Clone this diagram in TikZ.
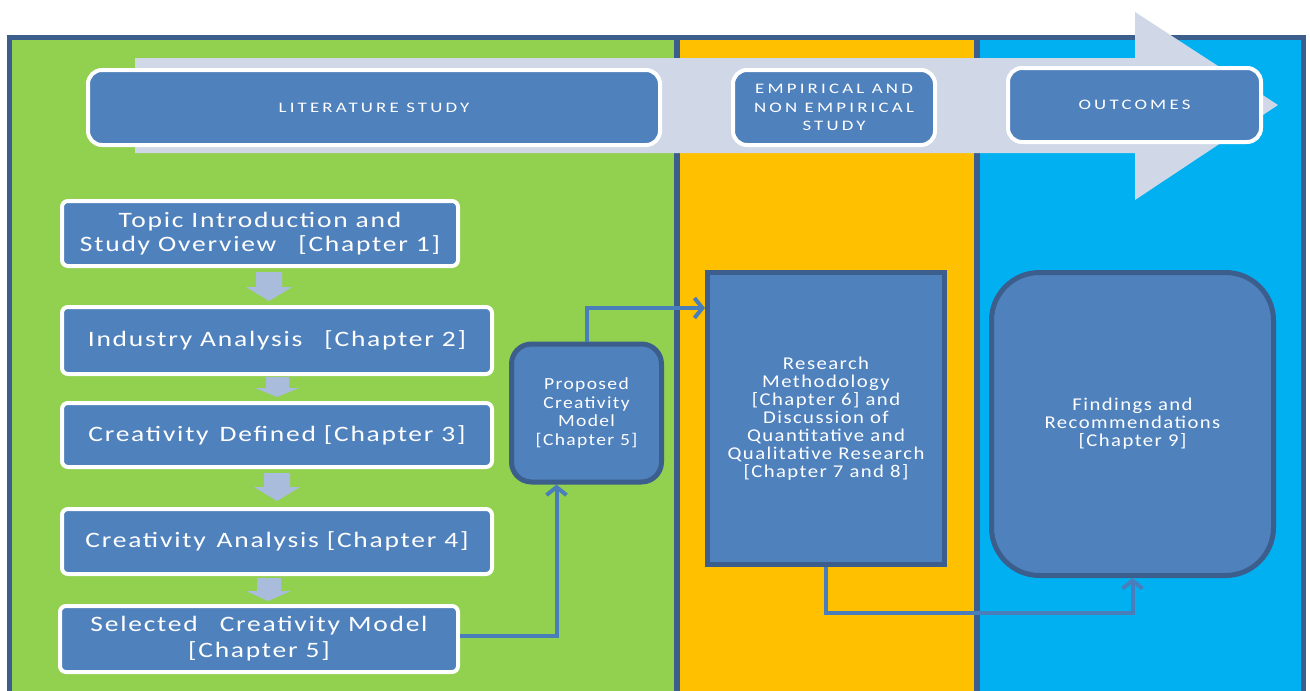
\documentclass[tikz,border=0pt]{standalone}
\usepackage{fontspec}
\setmainfont{Carlito}
\newfontfamily\hdrfont[FakeStretch=1.3,LetterSpace=22]{Carlito}
\newfontfamily\chpfont[FakeStretch=1.25,LetterSpace=8]{Carlito}
\newfontfamily\inrfont[FakeStretch=1.15,LetterSpace=8]{Carlito}
\usetikzlibrary{arrows.meta}
\definecolor{pgreen}{HTML}{92D050}
\definecolor{pyellow}{HTML}{FFC000}
\definecolor{pcyan}{HTML}{00B0F0}
\definecolor{frame}{HTML}{3B5E8C}
\definecolor{boxblue}{HTML}{4F81BD}
\definecolor{biggray}{HTML}{D0D8E8}
\definecolor{smallarr}{HTML}{AABCDB}
\definecolor{connc}{HTML}{4A7EBB}
\tikzset{
  hbox/.style={fill=boxblue, draw=white, line width=4pt, rounded corners=14pt, text=white, align=center, inner sep=0pt, font=\hdrfont\fontsize{14.5}{18.5}\selectfont},
  cbox/.style={fill=boxblue, draw=white, line width=4pt, rounded corners=6pt, text=white, align=center, inner sep=0pt, font=\chpfont\fontsize{22}{24.5}\selectfont},
  ibox/.style={fill=boxblue, draw=frame, line width=5pt, text=white, align=center, inner sep=0pt, font=\inrfont\fontsize{18}{18}\selectfont},
  conn/.style={draw=connc, line width=4pt, -{Straight Barb[length=8pt,width=20pt]}},
  smallarrow/.style={fill=smallarr}
}
\begin{document}
\begin{tikzpicture}[x=1pt,y=-1pt]
\useasboundingbox (0,0) rectangle (1310,691);
\fill[white] (0,0) rectangle (1310,691);
% panels
\fill[pgreen] (8,35) rectangle (677,691);
\fill[pyellow] (677,35) rectangle (977,691);
\fill[pcyan] (977,35) rectangle (1306,691);
\draw[frame, line width=5pt] (9.5,691) -- (9.5,37.5) -- (1303.5,37.5) -- (1303.5,691);
\draw[frame, line width=6pt] (677,37.5) -- (677,691);
\draw[frame, line width=6pt] (977,37.5) -- (977,691);
% big arrow
\fill[biggray] (135,58) -- (1135,58) -- (1135,12) -- (1278,105) -- (1135,200) -- (1135,153) -- (135,153) -- cycle;
% header boxes
\node[hbox, minimum width=572pt, minimum height=75pt] (lit) at (374,107.5) {LITERATURE STUDY};
\node[hbox, minimum width=202pt, minimum height=75pt] (emp) at (834,107.5) {EMPIRICAL AND\\NON EMPIRICAL\\STUDY};
\node[hbox, minimum width=253pt, minimum height=74pt] (out) at (1134.5,105) {OUTCOMES};
% chapter boxes
\node[cbox, minimum width=396pt, minimum height=65pt] (b1) at (260,233.5) {Topic Introduction and\\Study Overview\quad [Chapter 1]};
\node[cbox, minimum width=430pt, minimum height=67pt] (b2) at (277,340.5) {Industry Analysis\quad [Chapter 2]};
\node[cbox, minimum width=430pt, minimum height=64pt] (b3) at (277,435) {Creativity\enspace Defined [Chapter 3]};
\node[cbox, minimum width=430pt, minimum height=65pt] (b4) at (277,541.5) {Creativity\enspace Analysis [Chapter 4]};
\node[cbox, minimum width=398pt, minimum height=66pt, font=\chpfont\fontsize{22}{26}\selectfont] (b5) at (259,639) {Selected\quad Creativity Model\\{}[Chapter 5]};
% small arrows between chapter boxes
\fill[smallarrow] (256,272) -- (282,272) -- (282,287) -- (292,287) -- (269,301) -- (246,287) -- (256,287) -- cycle;
\fill[smallarrow] (266,377) -- (289,377) -- (289,388) -- (299,388) -- (277,397) -- (255,388) -- (266,388) -- cycle;
\fill[smallarrow] (264,473) -- (290,473) -- (290,487) -- (300,487) -- (277,501) -- (254,487) -- (264,487) -- cycle;
\fill[smallarrow] (257,578) -- (281,578) -- (281,591) -- (291,591) -- (268,601) -- (246,591) -- (257,591) -- cycle;
% inner boxes
\node[ibox, rounded corners=20pt, minimum width=150pt, minimum height=138pt, font=\inrfont\fontsize{17}{18.5}\selectfont] (prop) at (586.5,413) {Proposed\\Creativity\\Model\\{}[Chapter 5]};
\node[ibox, minimum width=237pt, minimum height=292pt] (res) at (826,418.5) {Research\\Methodology\\{}[Chapter 6] and\\Discussion of\\Quantitative and\\Qualitative Research\\{}[Chapter 7 and 8]};
\node[ibox, rounded corners=48pt, minimum width=282pt, minimum height=303pt] (fin) at (1132.5,424) {Findings and\\Recommendations\\{}[Chapter 9]};
% connectors
\draw[conn] ([yshift=3pt]b5.east) -| ([xshift=-30pt]prop.south);
\draw[conn] (prop.north) |- ([yshift=110.5pt]res.west);
\draw[conn] (res.south) -- ++(0,46) -| (fin.south);
\end{tikzpicture}
\end{document}
